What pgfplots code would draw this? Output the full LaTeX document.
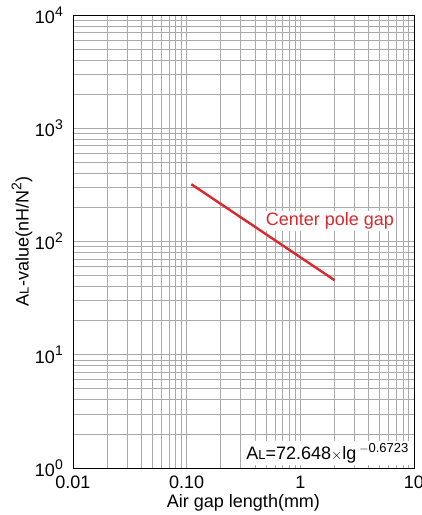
\documentclass[border=0pt]{standalone}
\usepackage{pgfplots}
\pgfplotsset{compat=1.18}
\usepackage{fontspec}
\setmainfont{Liberation Sans}
\definecolor{redline}{RGB}{220,40,45}
\definecolor{gridgray}{RGB}{170,170,170}
\newcommand{\AL}{A{\fontsize{13}{13}\selectfont L}}
\newcommand{\sups}[1]{\raisebox{0.75ex}{\fontsize{14}{14}\selectfont #1}}
\newcommand{\tl}[1]{10\sups{#1}}
\begin{document}
\fontsize{18}{21}\selectfont
\begin{tikzpicture}
\useasboundingbox (-73pt,-47pt) rectangle (349pt,468pt);
\begin{axis}[
 at={(0,0)}, anchor=south west,
 scale only axis, width=341pt, height=453pt,
 xmode=log, ymode=log,
 xmin=0.01, xmax=10, ymin=1, ymax=10000,
 xtick={0.01,0.1,1,10}, xticklabels={0.01,0.10,1,10},
 minor xtick={0.02,0.03,0.04,0.05,0.06,0.07,0.08,0.09,0.2,0.3,0.4,0.5,0.6,0.7,0.8,0.9,2,3,4,5,6,7,8,9},
 ytick={1,10,100,1000,10000},
 yticklabels={\tl{0},\tl{1},\tl{2},\tl{3},\tl{4}},
 minor ytick={2,3,4,5,6,7,8,9,20,30,40,50,60,70,80,90,200,300,400,500,600,700,800,900,2000,3000,4000,5000,6000,7000,8000,9000},
 grid=both,
 major grid style={draw=gridgray, line width=0.8pt},
 minor grid style={draw=gridgray, line width=0.8pt},
 major tick length=0pt, minor tick length=0pt,
 axis line style={black, line width=0.8pt},
 ticklabel style={font=\fontsize{18}{21}\selectfont},
 xticklabel style={yshift=-2pt},
 yticklabel style={xshift=-4pt},
 xlabel={Air gap length(mm)},
 ylabel={\AL-value(nH/N\sups{2})},
 label style={font=\fontsize{18}{21}\selectfont},
 xlabel style={at={(rel axis cs:0.5,0)}, anchor=north, yshift=-20pt},
 ylabel style={at={(rel axis cs:0,0.5)}, anchor=center, yshift=51pt},
 clip=false,
]
\addplot[redline, line width=2.4pt] coordinates {
 (0.11,320.4) (0.2,214.4) (0.3,163.2) (0.5,115.8) (0.7,92.3) (1,72.6) (1.5,55.3) (2,45.5)
};
\node[anchor=west, text=redline, fill=white, inner sep=1.5pt, font=\fontsize{18}{21}\selectfont] at (axis cs:0.48,152) {Center pole gap};
\node[anchor=south east, fill=white, inner sep=2pt, font=\fontsize{18}{21}\selectfont] at (rel axis cs:0.99,0.006) {\AL=72.648{\fontsize{14}{14}\selectfont$\times$}lg\,\sups{\fontsize{13}{13}\selectfont $-$0.6723}};
\end{axis}
\end{tikzpicture}
\end{document}
